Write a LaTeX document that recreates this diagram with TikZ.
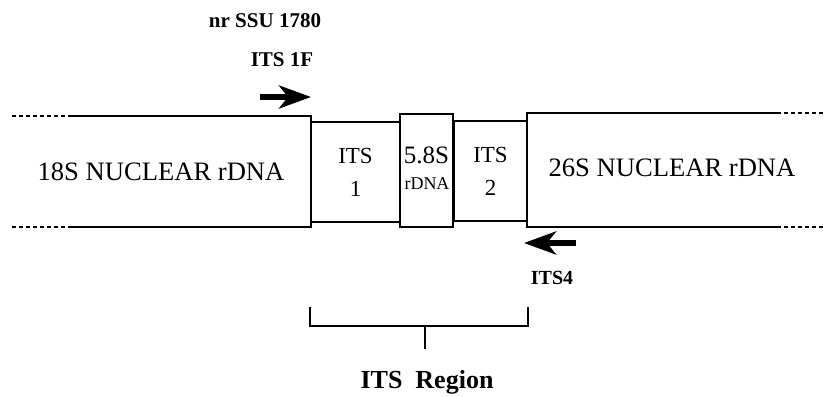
\documentclass[tikz,border=0pt]{standalone}
\usepackage{fontspec}
\setmainfont{Liberation Serif}
\usetikzlibrary{arrows.meta}
\begin{document}
\begin{tikzpicture}[x=1pt,y=-1pt,line width=2.6pt,line join=miter,
  dotline/.style={dash pattern=on 4pt off 3pt},
  boxn/.style={draw,inner sep=0pt,align=center,anchor=center},
  primer/.style={line width=5.5pt,-{Stealth[length=32pt,width=23pt,inset=9pt]}},
  plabel/.style={font=\bfseries\fontsize{21}{23}\selectfont,inner sep=0pt},
  big/.style={font=\fontsize{26.6}{28}\selectfont,inner sep=0pt}]
\useasboundingbox (0,0) rectangle (824,396);
% left 18S block
\coordinate (lt0) at (12,116);
\coordinate (lt1) at (70,116);
\coordinate (lb0) at (12,227);
\coordinate (lb1) at (70,227);
\coordinate (ltr) at (311,116);
\coordinate (lbr) at (311,227);
\draw[dotline] (lt0) -- (lt1);
\draw[dotline] (lb0) -- (lb1);
\draw (lt1) -- (ltr) -- (lbr) -- (lb1);
\node[big] (t18) at (161,172) {18S NUCLEAR rDNA};
% right 26S block
\coordinate (rt0) at (777,113);
\coordinate (rt1) at (824,113);
\coordinate (rb0) at (777,227);
\coordinate (rb1) at (824,227);
\coordinate (rtl) at (527,113);
\coordinate (rbl) at (527,227);
\draw[dotline] (rt0) -- (rt1);
\draw[dotline] (rb0) -- (rb1);
\draw (rt0) -- (rtl) -- (rbl) -- (rb0);
\node[big] (t26) at (672,168) {26S NUCLEAR rDNA};
% middle boxes
\node[boxn,minimum width=89pt,minimum height=100pt,
  font=\fontsize{23}{33}\selectfont] (its1) at (355.5,172) {ITS\\1};
\node[boxn,minimum width=73pt,minimum height=100pt,
  font=\fontsize{23}{33}\selectfont] (its2) at (490.5,171) {ITS\\2};
\node[boxn,minimum width=53pt,minimum height=113pt,fill=white] (s58) at (426.5,170.5) {};
\node[inner sep=0pt,font=\fontsize{25}{27}\selectfont] (t58) at (426.5,155) {5.8S};
\node[inner sep=0pt,font=\fontsize{18}{20}\selectfont] (trd) at (427,184) {rDNA};
% primers
\coordinate (f0) at (260,97);
\coordinate (f1) at (311,97);
\draw[primer] (f0) -- (f1);
\node[plabel] (nr) at (265,21) {nr SSU 1780};
\node[plabel] (its1f) at (282,60) {ITS 1F};
\coordinate (r0) at (576,243);
\coordinate (r1) at (524,243);
\draw[primer] (r0) -- (r1);
\node[inner sep=0pt,font=\bfseries\fontsize{20}{22}\selectfont] (its4) at (552,278) {ITS4};
% bracket
\coordinate (bl0) at (310,307);
\coordinate (bl1) at (310,326);
\coordinate (br1) at (528,326);
\coordinate (br0) at (528,307);
\coordinate (bs0) at (425,326);
\coordinate (bs1) at (425,349);
\draw (bl0) -- (bl1) -- (br1) -- (br0);
\draw (bs0) -- (bs1);
\node[inner sep=0pt,font=\bfseries\fontsize{26}{28}\selectfont] (reg) at (427,382) {ITS~~Region};
\end{tikzpicture}
\end{document}
